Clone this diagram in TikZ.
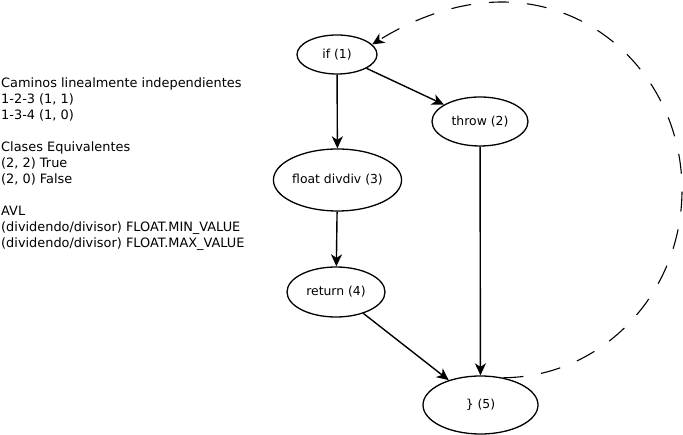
\documentclass[tikz,border=0pt]{standalone}
\usepackage{fontspec}
\setmainfont{DejaVu Sans}
\usetikzlibrary{shapes.geometric,arrows.meta}
\begin{document}
\begin{tikzpicture}[x=1pt,y=-1pt,
  every node/.style={font=\fontsize{12.4}{16}\selectfont},
  state/.style={ellipse,draw,line width=1.3pt,inner sep=0pt},
  edge/.style={line width=1.4pt,-{Stealth[length=12pt,width=11pt,inset=3.5pt]}},
  loopedge/.style={edge,line width=1.1pt,dash pattern=on 20pt off 18pt}]
\useasboundingbox (0,0) rectangle (683,435);
\node[state,minimum width=80pt,minimum height=39pt] (n1) at (337,54.5) {if (1)};
\node[state,minimum width=96pt,minimum height=49pt] (n2) at (480,121.5) {throw (2)};
\node[state,minimum width=125pt,minimum height=62pt] (n3) at (337.5,180) {float divdiv (3)};
\node[state,minimum width=98pt,minimum height=50pt] (n4) at (336,292) {return (4)};
\node[state,minimum width=115pt,minimum height=58pt] (n5) at (480.5,405) {\} (5)};
\node[anchor=base west,align=left,inner sep=0pt,font=\fontsize{12.9}{16}\selectfont] (txt) at (1,248) {Caminos linealmente independientes\\
1-2-3 (1, 1)\\
1-3-4 (1, 0)\\[16pt]
Clases Equivalentes\\
(2, 2) True\\
(2, 0) False\\[16pt]
AVL\\
(dividendo/divisor) FLOAT.MIN\_VALUE\\
(dividendo/divisor) FLOAT.MAX\_VALUE};
\draw[edge] (n1) -- (n3);
\draw[edge] (n1) -- (n2);
\draw[edge] (n3) -- (n4);
\draw[edge] (n4) -- (n5);
\draw[edge] (n2) -- (n5);
\coordinate (r) at (682,190);
\coordinate (t) at (502,2);
\draw[loopedge] (n5.50) .. controls (603,377) and (682,293) .. (r)
  .. controls (682,86) and (602,2) .. (t)
  .. controls (450,2) and (405,24) .. (n1.16);
\end{tikzpicture}
\end{document}
